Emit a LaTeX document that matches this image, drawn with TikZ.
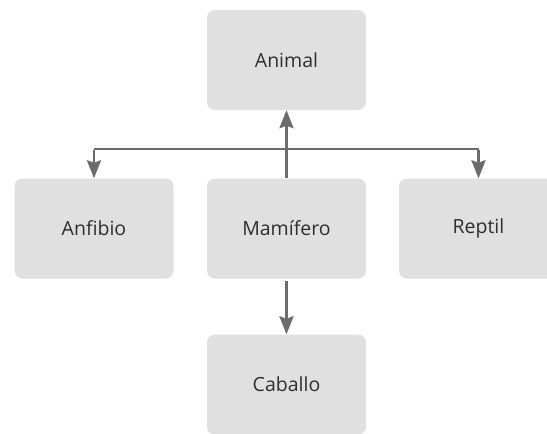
\documentclass[tikz,border=0pt]{standalone}
\usepackage{fontspec}
\setmainfont{Open Sans}
\usetikzlibrary{arrows.meta}
\definecolor{boxfill}{HTML}{E0E0E0}
\definecolor{linkgray}{HTML}{6B6B6B}
\definecolor{labelgray}{HTML}{2E2E2E}
\tikzset{
  concept/.style={draw=none, fill=boxfill, rounded corners=8pt,
    minimum width=159pt, minimum height=100pt, inner sep=0pt,
    text=labelgray, font=\fontsize{19.5}{22}\selectfont},
  link/.style={draw=linkgray, line width=2.6pt,
    -{Stealth[length=18pt,width=14pt,inset=2.5pt]}},
  plainlink/.style={draw=linkgray, line width=2.6pt},
}
\begin{document}
\begin{tikzpicture}[x=1pt,y=-1pt]
  \useasboundingbox (0,0) rectangle (547,434);
  \clip (0,0) rectangle (547,434);
  \fill[white] (0,0) rectangle (547,434);
  % class boxes
  \node[concept] (animal)   at (286.5,60)  {Animal};
  \node[concept] (anfibio)  at (94,228.5)  {Anfibio};
  \node[concept] (mamifero) at (286.5,228.5) {Mamífero};
  \node[concept] (reptil)   at (478.5,228.5) {Reptil};
  \node[concept] (caballo)  at (286.5,384.5) {Caballo};
  % junction points of the branching connector
  \coordinate (jl) at (anfibio.north |- 0,149);
  \coordinate (jr) at (reptil.north |- 0,149);
  % connectors
  \draw[link] (mamifero.north) -- (animal.south);
  \draw[plainlink] (jl) -- (jr);
  \draw[link] ([yshift=-1.3pt]jl) -- (anfibio.north);
  \draw[link] ([yshift=-1.3pt]jr) -- (reptil.north);
  \draw[link] ([yshift=-2pt]mamifero.south) -- (caballo.north);
\end{tikzpicture}
\end{document}
